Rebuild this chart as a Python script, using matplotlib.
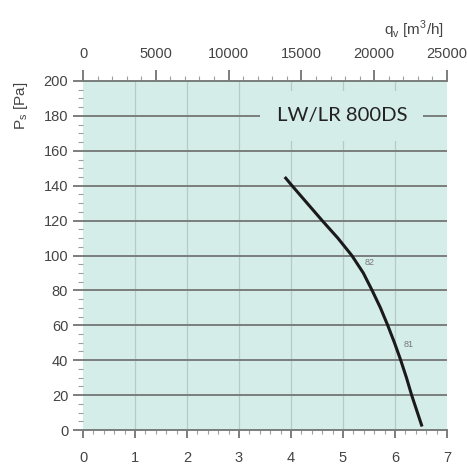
import numpy as np
import matplotlib.pyplot as plt
from matplotlib.ticker import MultipleLocator

# fan curve: volume flow [m3/s] vs static pressure [Pa]
flow = [3.88, 4.02, 4.31, 4.60, 4.90, 5.17, 5.39, 5.56, 5.72, 5.86, 5.99, 6.11, 6.22, 6.32, 6.52]
pressure = [145, 140, 130, 120, 110, 100, 90, 80, 70, 60, 50, 40, 30, 20, 2]

# efficiency marks along the curve
eff_labels = ["82", "81"]
eff_x = [5.52, 6.27]
eff_y = [96, 49]

model = "LW/LR 800DS"
bg = "#d5ede9"
tick_col = "#444444"
grid_col = "#7a7f7e"

plt.rcParams['font.family'] = ['Liberation Sans', 'DejaVu Sans']

fig = plt.figure(figsize=(4.67, 4.66), dpi=100)
ax = fig.add_axes([83 / 467, 1 - 430 / 466, 364 / 467, 349 / 466])
ax.set_facecolor(bg)

ax.set_xlim(0, 7)
ax.set_ylim(0, 200)

# faint vertical grid, strong horizontal grid
for xv in range(1, 7):
    ax.axvline(xv, color="#b5cbc8", lw=0.9, zorder=1)
ax.yaxis.set_major_locator(MultipleLocator(20))
ax.yaxis.set_minor_locator(MultipleLocator(5))
ax.xaxis.set_major_locator(MultipleLocator(1))
ax.xaxis.set_minor_locator(MultipleLocator(0.2))
ax.grid(axis="y", which="major", color=grid_col, lw=1.4, zorder=1)

for s in ["left", "right"]:
    ax.spines[s].set_visible(False)
for s in ["bottom", "top"]:
    ax.spines[s].set_color(grid_col)
    ax.spines[s].set_linewidth(1.4)

ax.tick_params(axis="y", which="major", length=7.2, width=1.4, color=grid_col,
               labelsize=10.5, labelcolor=tick_col, pad=3.5)
ax.tick_params(axis="y", which="minor", length=3.6, width=0.8, color="#9aa09f")
ax.tick_params(axis="x", which="major", length=5.8, width=1.4, color=grid_col,
               labelsize=10.5, labelcolor=tick_col, pad=9)
ax.tick_params(axis="x", which="minor", length=2.9, width=0.8, color="#9aa09f")

# top axis in m3/h
top = ax.secondary_xaxis("top", functions=(lambda x: x * 25000 / 7,
                                           lambda q: q * 7 / 25000))
top.set_xticks(np.arange(0, 25001, 5000))
top.xaxis.set_minor_locator(MultipleLocator(1000))
top.spines["top"].set_visible(False)
top.tick_params(which="major", length=8, width=1.4, color=grid_col,
                labelsize=10.5, labelcolor=tick_col, pad=6.5)
top.tick_params(which="minor", length=3.6, width=0.8, color="#9aa09f")

ax.plot(flow, pressure, color="#1a1a1a", lw=2.2, zorder=3, solid_capstyle="butt")
for lab, xv, yv in zip(eff_labels, eff_x, eff_y):
    ax.text(xv, yv, lab, fontsize=6.5, color="#777777", ha="center", va="center", zorder=3)

ax.text(4.98, 180, model, fontsize=14.6, color="#222222", ha="center", va="center",
        family=["Lato", "DejaVu Sans"], zorder=4,
        bbox=dict(facecolor=bg, edgecolor="none", boxstyle="square,pad=0.8"))

fig.text(21 / 467, 1 - 106 / 466, r"P$_\mathregular{s}$ [Pa]", rotation=90,
         fontsize=11, color=tick_col, ha="center", va="center")
fig.text(414 / 467, 1 - 30 / 466, r"q$_\mathregular{v}$ [m$^\mathregular{3}$/h]",
         fontsize=11, color=tick_col, ha="center", va="center")

fig.savefig("out.png", dpi=100)
